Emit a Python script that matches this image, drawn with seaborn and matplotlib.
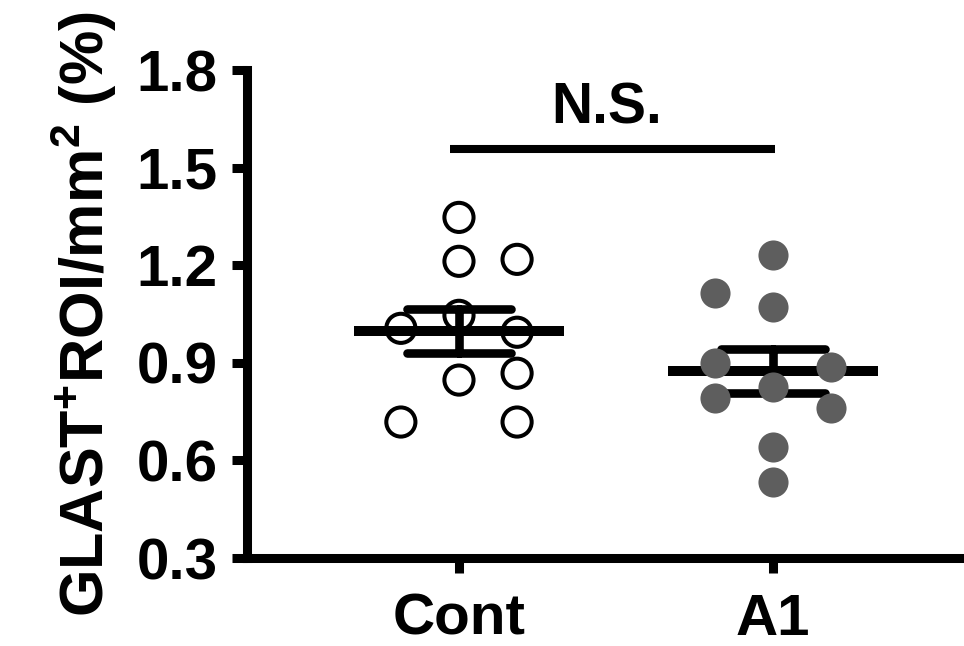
import numpy as np
import pandas as pd
import matplotlib
matplotlib.use("Agg")
import matplotlib.pyplot as plt
import seaborn as sns

# ===== DATA =====
groups = ["Cont", "A1"]
cont_vals = [1.347, 1.212, 1.218, 1.046, 1.006, 0.994, 0.847, 0.868, 0.718, 0.718]
cont_slot = [0, 0, 1, 0, -1, 1, 0, 1, -1, 1]
a1_vals = [1.231, 1.114, 1.071, 0.899, 0.887, 0.825, 0.791, 0.761, 0.641, 0.533]
a1_slot = [0, -1, 0, -1, 1, 0, -1, 1, 0, 0]
y_ticks = [0.3, 0.6, 0.9, 1.2, 1.5, 1.8]
sig_label = "N.S."

df = pd.DataFrame({
    "group": ["Cont"] * len(cont_vals) + ["A1"] * len(a1_vals),
    "value": cont_vals + a1_vals,
    "slot": cont_slot + a1_slot,
})
df["xpos"] = df["group"].map({g: i for i, g in enumerate(groups)}) + df["slot"] * 0.185

# ===== STYLE =====
sns.set_style("ticks")
plt.rcParams["font.family"] = ["Liberation Sans", "DejaVu Sans"]
plt.rcParams["font.weight"] = "bold"
plt.rcParams["mathtext.fontset"] = "custom"
plt.rcParams["mathtext.rm"] = "Liberation Sans:bold"
plt.rcParams["mathtext.bf"] = "Liberation Sans:bold"
for key in ["text.color", "axes.edgecolor", "axes.labelcolor", "xtick.color", "ytick.color"]:
    plt.rcParams[key] = "black"

fig = plt.figure(figsize=(9.64, 6.46), dpi=100)
ax = fig.add_axes([0.2562, 0.1362, 0.7438, 0.7554])

# mean +/- SEM
sns.pointplot(data=df, x="group", y="value", order=groups, errorbar="se",
              color="black", marker="_", markersize=151, markeredgewidth=7.2,
              linestyle="none", capsize=0.33, err_kws={"linewidth": 6.2},
              ax=ax, zorder=2)

# individual points
cont = df[df["group"] == "Cont"]
a1 = df[df["group"] == "A1"]
sns.scatterplot(x=cont["xpos"], y=cont["value"], s=440, marker="o",
                facecolor="none", edgecolor="black", linewidth=2.9, ax=ax, zorder=3)
sns.scatterplot(x=a1["xpos"], y=a1["value"], s=470, marker="o",
                color="#5e5e5e", linewidth=0, ax=ax, zorder=3)

# significance bar
ax.plot([-0.03, 1.006], [1.556, 1.556], color="black", linewidth=5.8, solid_capstyle="butt")
ax.text(0.47, 1.636, sig_label, ha="center", va="baseline", fontsize=41, fontweight="bold")

ax.set_xlim(-0.675, 1.608)
ax.set_ylim(0.3, 1.8)
ax.set_yticks(y_ticks)
ax.set_yticklabels([f"{t:.1f}" for t in y_ticks])
ax.set_xticks([0, 1])
ax.set_xticklabels(groups)
ax.set_xlabel("")
ax.set_ylabel(r"GLAST$^{\mathbf{+}}$ROI/mm$^{\mathbf{2}}$ (%)", fontsize=44, fontweight="bold")
ax.yaxis.set_label_coords(-0.178, 0.5)

sns.despine(ax=ax)
for sp in ["left", "bottom"]:
    ax.spines[sp].set_linewidth(6.5)
ax.tick_params(axis="both", width=6.5, length=11, labelsize=42, pad=10)
ax.tick_params(axis="x", pad=14)
for lab in ax.get_xticklabels() + ax.get_yticklabels():
    lab.set_fontweight("bold")

fig.savefig("out.png", dpi=100)
